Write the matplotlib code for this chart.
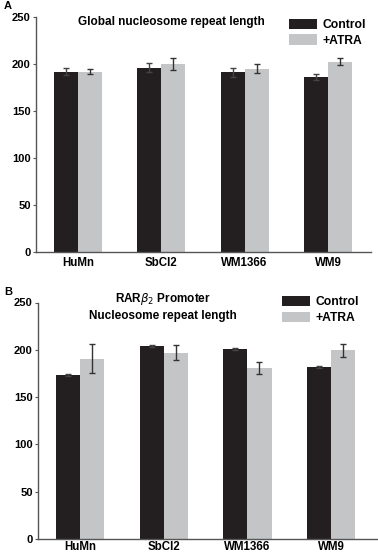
import matplotlib
matplotlib.use("Agg")
import matplotlib.pyplot as plt
import numpy as np
from matplotlib.patches import Patch

plt.rcParams['font.family'] = ['Liberation Sans', 'DejaVu Sans']

categories = ["HuMn", "SbCl2", "WM1366", "WM9"]
series_names = ["Control", "+ATRA"]

# Panel A: Global nucleosome repeat length
a_control = [192, 196, 191, 186]
a_control_err = [3.3, 4.6, 4.3, 3.2]
a_atra = [192, 199.5, 195, 202.5]
a_atra_err = [2.6, 6.4, 4.6, 4.0]

# Panel B: RARb2 promoter nucleosome repeat length
b_control = [173, 204.3, 200.4, 181.9]
b_control_err = [1.0, 1.0, 1.0, 1.0]
b_atra = [190.8, 196.8, 180.5, 199.3]
b_atra_err = [15.5, 8.0, 6.5, 6.5]

yticks = [0, 50, 100, 150, 200, 250]

W, H = 378, 555
fig = plt.figure(figsize=(W / 100, H / 100), dpi=100)

c_dark = "#231f20"
c_grey = "#c3c5c7"
spine_c = "#555555"
bw = 0.288


def px_axes(l, r, top, bottom):
    return fig.add_axes([l / W, 1 - bottom / H, (r - l) / W, (bottom - top) / H])


def draw(ax, ctrl, ctrl_e, atra, atra_e, xlim, xpad):
    x = np.arange(len(categories))
    ax.bar(x - bw / 2, ctrl, bw, color=c_dark, zorder=2)
    ax.bar(x + bw / 2, atra, bw, color=c_grey, zorder=2)
    ax.errorbar(x - bw / 2, ctrl, yerr=ctrl_e, fmt='none', ecolor="#444444",
                elinewidth=1, capsize=2, capthick=1, zorder=3)
    ax.errorbar(x + bw / 2, atra, yerr=atra_e, fmt='none', ecolor="#333333",
                elinewidth=1, capsize=2, capthick=1, zorder=3)
    ax.set_xlim(*xlim)
    ax.set_ylim(0, 250)
    ax.set_yticks(yticks)
    ax.set_yticklabels([str(t) for t in yticks], fontsize=8, fontweight='bold')
    ax.set_xticks(x)
    ax.set_xticklabels(categories, fontsize=8.3, fontweight='bold')
    ax.tick_params(axis='x', length=0, pad=xpad)
    ax.tick_params(axis='y', length=2.5, width=0.8, color=spine_c, pad=1.2)
    for s in ['top', 'right']:
        ax.spines[s].set_visible(False)
    for s in ['left', 'bottom']:
        ax.spines[s].set_color(spine_c)
        ax.spines[s].set_linewidth(1.0)


handles = [Patch(facecolor=c_dark, edgecolor='none'),
           Patch(facecolor=c_grey, edgecolor='none')]

# Panel A
axA = px_axes(36, 371, 17, 252)
draw(axA, a_control, a_control_err, a_atra, a_atra_err, (-0.504, 3.517), 3.5)
axA.text((171 - 36) / 335, (252 - 22) / 235, "Global nucleosome repeat length",
         transform=axA.transAxes, ha='center', va='center', fontsize=8.5,
         fontweight='bold')
axA.legend(handles, series_names, loc='upper left',
           bbox_to_anchor=(289 / W, 1 - 18.5 / H), bbox_transform=fig.transFigure,
           frameon=False, handlelength=2.3, handleheight=0.95,
           handletextpad=0.45, labelspacing=0.3, borderpad=0, borderaxespad=0,
           prop={'weight': 'bold', 'size': 8.7})

# Panel B
axB = px_axes(38, 377, 302.5, 539)
draw(axB, b_control, b_control_err, b_atra, b_atra_err, (-0.502, 3.548), 1.3)
axB.text((163 - 38) / 339, (539 - 299) / 236.5, r"RAR$\beta_2$ Promoter",
         transform=axB.transAxes, ha='center', va='center', fontsize=8.5,
         fontweight='bold')
axB.text((163 - 38) / 339, (539 - 316) / 236.5, "Nucleosome repeat length",
         transform=axB.transAxes, ha='center', va='center', fontsize=8.5,
         fontweight='bold')
axB.legend(handles, series_names, loc='upper left',
           bbox_to_anchor=(282 / W, 1 - 296 / H), bbox_transform=fig.transFigure,
           frameon=False, handlelength=2.3, handleheight=0.95,
           handletextpad=0.45, labelspacing=0.3, borderpad=0, borderaxespad=0,
           prop={'weight': 'bold', 'size': 8.7})

fig.text(4 / W, 1 - 6 / H, "A", fontsize=8, fontweight='bold', ha='left', va='center')
fig.text(4 / W, 1 - 292 / H, "B", fontsize=8, fontweight='bold', ha='left', va='center')

fig.savefig("out.png", dpi=100)
